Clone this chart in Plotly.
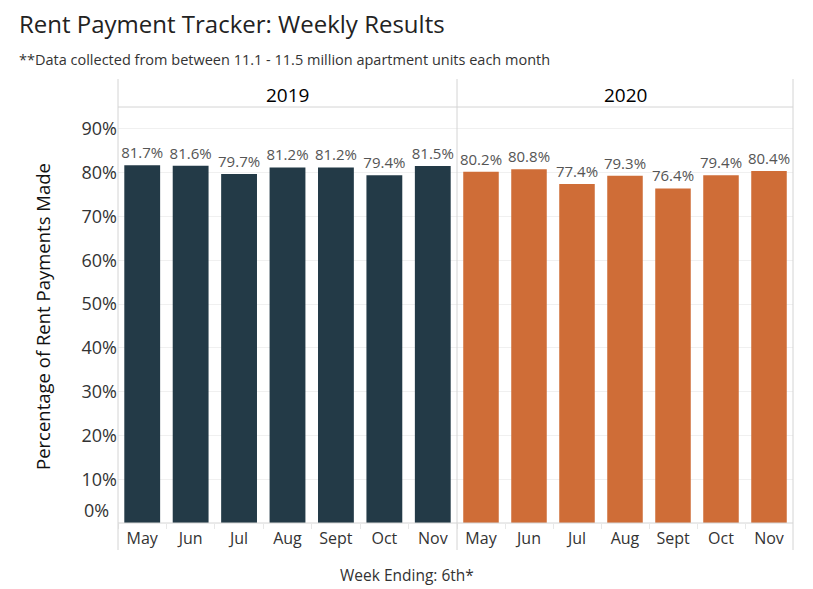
import plotly.graph_objects as go

months = ["May", "Jun", "Jul", "Aug", "Sept", "Oct", "Nov"]
vals_2019 = [81.7, 81.6, 79.7, 81.2, 81.2, 79.4, 81.5]
vals_2020 = [80.2, 80.8, 77.4, 79.3, 76.4, 79.4, 80.4]
years = ["2019", "2020"]
y_ticks = [10, 20, 30, 40, 50, 60, 70, 80, 90]
y_tick_labels = [f"{t}%" for t in y_ticks]

# page body has an 8px margin, so the figure sits at (8, 8) in the window
OFF = 8
W, H = 813 - OFF, 589 - OFF
FONT = "Open Sans"


def px(x):
    return (x - OFF) / W


def py(y):
    return 1 - (y - OFF) / H


fig = go.Figure()
fig.add_trace(go.Bar(
    x=months, y=vals_2019, xaxis="x", yaxis="y",
    marker=dict(color="#233a47", line=dict(width=0)),
    text=[f"{v}%" for v in vals_2019], textposition="outside",
    textfont=dict(size=15, color="#555555", family=FONT),
    constraintext="none", cliponaxis=False, showlegend=False,
))
fig.add_trace(go.Bar(
    x=months, y=vals_2020, xaxis="x2", yaxis="y2",
    marker=dict(color="#cf6d37", line=dict(width=0)),
    text=[f"{v}%" for v in vals_2020], textposition="outside",
    textfont=dict(size=15, color="#555555", family=FONT),
    constraintext="none", cliponaxis=False, showlegend=False,
))

xcommon = dict(
    type="category", showgrid=False, zeroline=False, showline=False,
    ticks="outside", tickson="boundaries", ticklen=5, tickcolor="#e8e8e8",
    ticklabelstandoff=4,
    tickfont=dict(size=16, color="#333333", family=FONT), fixedrange=True,
)
ycommon = dict(
    range=[0, 95], domain=[py(523), py(107)], tickvals=y_ticks,
    showgrid=True, gridcolor="#f0f0f0", gridwidth=1, zeroline=False,
    showline=False, ticks="",
)

line_color = "#d4d4d4"
shapes = []
for xv in (118, 457, 793):
    shapes.append(dict(type="line", xref="paper", yref="paper",
                       x0=px(xv), x1=px(xv), y0=py(79), y1=py(550),
                       line=dict(color=line_color, width=1)))
for yv in (107, 523):
    shapes.append(dict(type="line", xref="paper", yref="paper",
                       x0=px(118), x1=px(793), y0=py(yv), y1=py(yv),
                       line=dict(color=line_color, width=1)))

annotations = [
    dict(text="Rent Payment Tracker: Weekly Results", xref="paper", yref="paper",
         x=px(17), y=py(23), xanchor="left", yanchor="middle", showarrow=False,
         font=dict(size=24, color="#222222", family=FONT)),
    dict(text="**Data collected from between 11.1 - 11.5 million apartment units each month",
         xref="paper", yref="paper", x=px(17), y=py(60), xanchor="left",
         yanchor="middle", showarrow=False,
         font=dict(size=14.5, color="#333333", family=FONT)),
    dict(text=years[0], xref="paper", yref="paper", x=px((118 + 457) / 2), y=py(95),
         xanchor="center", yanchor="middle", showarrow=False,
         font=dict(size=19, color="#000000", family=FONT)),
    dict(text=years[1], xref="paper", yref="paper", x=px((457 + 793) / 2), y=py(95),
         xanchor="center", yanchor="middle", showarrow=False,
         font=dict(size=19, color="#000000", family=FONT)),
    dict(text="0%", xref="paper", yref="paper", x=px(111), y=py(510),
         xanchor="right", yanchor="middle", showarrow=False,
         font=dict(size=18, color="#333333", family=FONT)),
    dict(text="Percentage of Rent Payments Made", xref="paper", yref="paper",
         x=px(42), y=py(317), xanchor="center", yanchor="middle", textangle=-90,
         showarrow=False, font=dict(size=18.5, color="#111111", family=FONT)),
    dict(text="Week Ending: 6th*", xref="paper", yref="paper",
         x=px(407), y=py(575), xanchor="center", yanchor="middle", showarrow=False,
         font=dict(size=15.5, color="#333333", family=FONT)),
]

fig.update_layout(
    width=W, height=H,
    margin=dict(l=0, r=0, t=0, b=0),
    paper_bgcolor="white", plot_bgcolor="white",
    bargap=0.26,
    font=dict(family=FONT),
    xaxis=dict(domain=[px(118), px(457)], anchor="y", **xcommon),
    xaxis2=dict(domain=[px(457), px(793)], anchor="y2", **xcommon),
    yaxis=dict(anchor="x", ticktext=y_tick_labels,
               tickfont=dict(size=18, color="#333333", family=FONT), **ycommon),
    yaxis2=dict(anchor="x2", matches="y", showticklabels=False, **ycommon),
    shapes=shapes,
    annotations=annotations,
)

fig.write_html("out.html")
